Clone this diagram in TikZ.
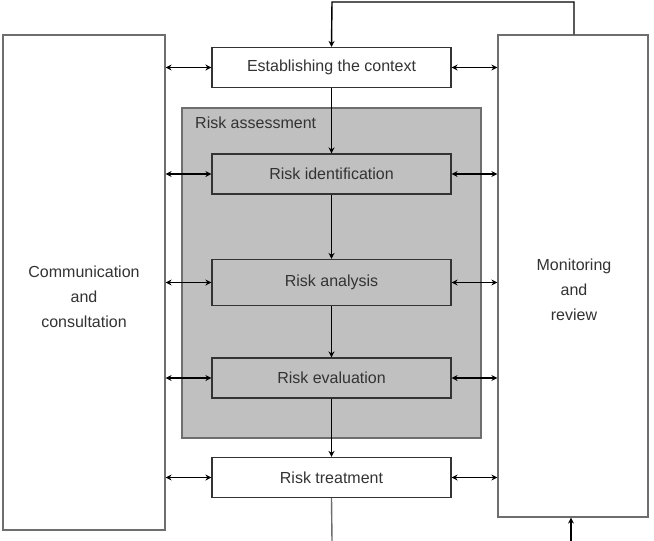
\documentclass[tikz,border=0pt]{standalone}
\usepackage{fontspec}
\setmainfont{Liberation Sans}
\usetikzlibrary{arrows.meta}
\definecolor{edgegray}{HTML}{6E6E6E}
\definecolor{fillgray}{HTML}{C0C0C0}
\definecolor{txtgray}{HTML}{333333}
\begin{document}
\begin{tikzpicture}[x=1pt,y=-1pt,
  every node/.style={font=\fontsize{16}{25}\selectfont, text=txtgray},
  sidebox/.style={draw=edgegray, line width=1.2pt, fill=white, align=center, inner sep=0pt},
  stepbox/.style={draw=black!80, line width=1.1pt, minimum width=239pt, minimum height=40pt, inner sep=0pt},
  conn/.style={black, line width=1.4pt},
  arr/.style={conn, -{Stealth[length=6pt,width=6pt]}},
  darr/.style={conn, {Stealth[length=6pt,width=6pt]}-{Stealth[length=6pt,width=6pt]}}]
\useasboundingbox (0,0) rectangle (654,541);
\fill[white] (0,0) rectangle (654,541);
% side boxes
\node[sidebox, minimum width=162pt, minimum height=495pt] (comm) at (84,282.5) {};
\node[align=center] (commtxt) at (84,297) {Communication\\and\\consultation};
\node[sidebox, minimum width=150pt, minimum height=482pt] (mon) at (573,276) {};
\node[align=center] (montxt) at (574,290) {Monitoring\\and\\review};
% risk assessment frame
\node[draw=edgegray, line width=1.2pt, fill=fillgray, minimum width=299pt, minimum height=330pt, inner sep=0pt] (ra) at (331.5,273) {};
\node[anchor=north west, inner sep=0pt] (ralabel) at (195,117) {Risk assessment};
% steps
\node[stepbox, fill=white] (est) at (331.5,67.5) {Establishing the context};
\node[stepbox, fill=fillgray] (ident) at (331.5,174) {Risk identification};
\node[stepbox, fill=fillgray, minimum height=46pt] (anal) at (331.5,282.5) {Risk analysis};
\node[stepbox, fill=fillgray] (eval) at (331.5,378) {Risk evaluation};
\node[stepbox, fill=white] (treat) at (331.5,477.5) {Risk treatment};
% coordinates
\coordinate (topR) at (574,2);
\coordinate (topL) at (332,2);
\coordinate (botT) at (332,541);
\coordinate (botM) at (571,541);
% vertical flow
\draw[arr] (mon.north -| topR) -- (topR) -- (topL) -- (est.north);
\draw[arr] (est.south) -- (ident.north);
\draw[arr] (ident.south) -- (anal.north);
\draw[arr] (anal.south) -- (eval.north);
\draw[arr] (eval.south) -- (treat.north);
\draw[conn, edgegray] (treat.south) -- (botT);
\draw[arr] (botM) -- (mon.south -| botM);
% horizontal double arrows
\foreach \n in {est,ident,anal,eval,treat}{
  \draw[darr] (comm.east |- \n.west) -- (\n.west);
  \draw[darr] (\n.east) -- (mon.west |- \n.east);
}
\end{tikzpicture}
\end{document}
